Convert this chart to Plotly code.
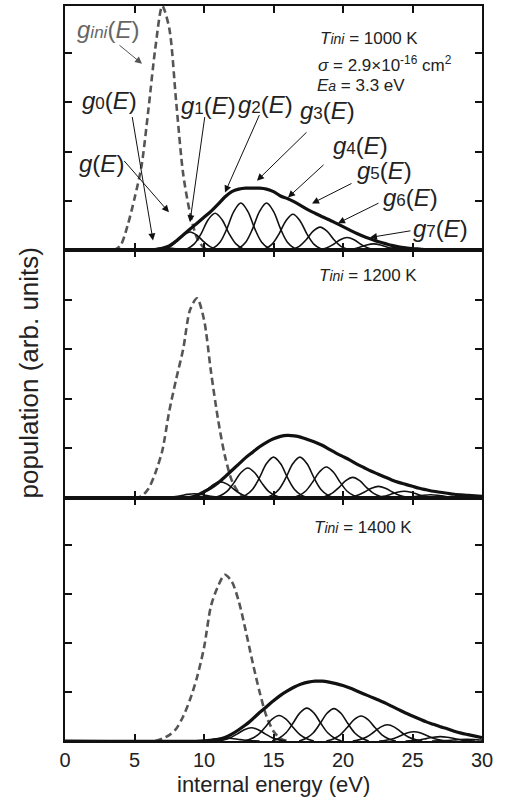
import plotly.graph_objects as go

# ---------------- data ----------------
OFFSETS = [-2.5, -2.0, -1.5, -1.0, -0.5, 0.0, 0.5, 1.0, 1.5, 2.0, 2.5]

# T_ini = 1000 K
ini_1000_E = [3.5, 4.0, 4.5, 5.0, 5.5, 6.0, 6.5, 7.0, 7.5, 8.0, 8.5, 9.0, 9.5, 10.0, 10.5]
ini_1000_y = [0.0, 0.1, 0.5, 1.05, 1.7, 2.85, 4.1, 4.95, 4.5, 3.0, 1.55, 0.75, 0.25, 0.05, 0.0]
env_1000_E = [0, 6.0, 6.5, 7.0, 7.5, 8.0, 8.5, 9.0, 9.5, 10.0, 10.5, 11.0, 11.5, 12.0, 12.5, 13.0,
              13.5, 14.0, 14.5, 15.0, 15.5, 16.0, 16.5, 17.0, 17.5, 18.0, 18.5, 19.0, 19.5, 20.0,
              20.5, 21.0, 21.5, 22.0, 22.5, 23.0, 23.5, 24.0, 24.5, 25.0, 25.5, 26.0, 27.0, 28.0, 30]
env_1000_y = [0, 0.0, 0.01, 0.04, 0.09, 0.19, 0.31, 0.43, 0.55, 0.67, 0.79, 0.93, 1.08, 1.19, 1.24, 1.26,
              1.26, 1.26, 1.24, 1.19, 1.1, 1.05, 0.98, 0.9, 0.82, 0.75, 0.68, 0.62, 0.55, 0.48,
              0.41, 0.34, 0.28, 0.23, 0.18, 0.14, 0.1, 0.07, 0.05, 0.035, 0.025, 0.015, 0.005, 0.0, 0]
comp_1000_c = [7.2, 9.0, 10.8, 12.65, 14.5, 16.4, 18.35, 20.3, 22.2, 24.1]
comp_1000_y = [
    [0, 0.002, 0.009, 0.023, 0.041, 0.05, 0.041, 0.023, 0.009, 0.002, 0],
    [0, 0.016, 0.064, 0.17, 0.30, 0.37, 0.30, 0.17, 0.064, 0.016, 0],
    [0, 0.033, 0.13, 0.34, 0.62, 0.75, 0.62, 0.34, 0.13, 0.033, 0],
    [0, 0.042, 0.165, 0.44, 0.79, 0.96, 0.79, 0.44, 0.165, 0.042, 0],
    [0, 0.042, 0.165, 0.44, 0.79, 0.96, 0.79, 0.44, 0.165, 0.042, 0],
    [0, 0.032, 0.126, 0.334, 0.60, 0.73, 0.60, 0.334, 0.126, 0.032, 0],
    [0, 0.021, 0.081, 0.215, 0.387, 0.47, 0.387, 0.215, 0.081, 0.021, 0],
    [0, 0.011, 0.045, 0.119, 0.214, 0.26, 0.214, 0.119, 0.045, 0.011, 0],
    [0, 0.006, 0.022, 0.06, 0.107, 0.13, 0.107, 0.06, 0.022, 0.006, 0],
    [0, 0.003, 0.01, 0.027, 0.049, 0.06, 0.049, 0.027, 0.01, 0.003, 0],
]

# T_ini = 1200 K
ini_1200_E = [5.0, 5.5, 6.0, 6.5, 7.0, 7.5, 8.0, 8.5, 9.0, 9.5, 10.0, 10.5, 11.0, 11.5, 12.0, 12.5, 13.0]
ini_1200_y = [0.0, 0.03, 0.18, 0.5, 0.95, 1.75, 2.4, 3.0, 3.8, 4.03, 3.6, 2.55, 1.6, 0.85, 0.35, 0.1, 0.0]
env_1200_E = [0, 8.5, 9.0, 9.5, 10.0, 10.5, 11.0, 11.5, 12.0, 12.5, 13.0, 13.5, 14.0, 14.5, 15.0,
              15.5, 16.0, 16.5, 17.0, 17.5, 18.0, 18.5, 19.0, 19.5, 20.0, 20.5, 21.0, 21.5, 22.0,
              22.5, 23.0, 23.5, 24.0, 24.5, 25.0, 25.5, 26.0, 26.5, 27.0, 27.5, 28.0, 29.0, 30.0]
env_1200_y = [0, 0.0, 0.01, 0.05, 0.12, 0.2, 0.3, 0.42, 0.55, 0.68, 0.81, 0.92, 1.03, 1.12, 1.19,
              1.24, 1.26, 1.25, 1.22, 1.17, 1.12, 1.06, 0.98, 0.9, 0.83, 0.76, 0.68, 0.61, 0.54,
              0.48, 0.42, 0.36, 0.31, 0.27, 0.23, 0.19, 0.16, 0.13, 0.11, 0.09, 0.07, 0.05, 0.03]
comp_1200_c = [9.3, 11.2, 13.15, 15.0, 16.9, 18.8, 20.7, 22.55, 24.4, 26.3]
comp_1200_y = [
    [0, 0.005, 0.017, 0.04, 0.067, 0.08, 0.067, 0.04, 0.017, 0.005, 0],
    [0, 0.02, 0.068, 0.16, 0.27, 0.32, 0.27, 0.16, 0.068, 0.02, 0],
    [0, 0.038, 0.127, 0.3, 0.505, 0.6, 0.505, 0.3, 0.127, 0.038, 0],
    [0, 0.052, 0.173, 0.41, 0.69, 0.82, 0.69, 0.41, 0.173, 0.052, 0],
    [0, 0.052, 0.173, 0.41, 0.69, 0.82, 0.69, 0.41, 0.173, 0.052, 0],
    [0, 0.039, 0.131, 0.31, 0.521, 0.62, 0.521, 0.31, 0.131, 0.039, 0],
    [0, 0.026, 0.087, 0.205, 0.345, 0.41, 0.345, 0.205, 0.087, 0.026, 0],
    [0, 0.014, 0.049, 0.115, 0.193, 0.23, 0.193, 0.115, 0.049, 0.014, 0],
    [0, 0.008, 0.027, 0.065, 0.109, 0.13, 0.109, 0.065, 0.027, 0.008, 0],
    [0, 0.004, 0.013, 0.03, 0.05, 0.06, 0.05, 0.03, 0.013, 0.004, 0],
]

# T_ini = 1400 K
ini_1400_E = [6.5, 7.0, 7.5, 8.0, 8.5, 9.0, 9.5, 10.0, 10.5, 11.0, 11.5, 12.0, 12.5, 13.0, 13.5,
              14.0, 14.5, 15.0, 15.5, 16.0]
ini_1400_y = [0.0, 0.05, 0.12, 0.25, 0.5, 0.85, 1.3, 1.9, 2.75, 3.15, 3.39, 3.25, 2.85, 2.25, 1.6,
              1.0, 0.5, 0.2, 0.05, 0.0]
env_1400_E = [0, 10.0, 10.5, 11.0, 11.5, 12.0, 12.5, 13.0, 13.5, 14.0, 14.5, 15.0, 15.5, 16.0, 16.5,
              17.0, 17.5, 18.0, 18.5, 19.0, 19.5, 20.0, 20.5, 21.0, 21.5, 22.0, 22.5, 23.0, 23.5,
              24.0, 24.5, 25.0, 25.5, 26.0, 26.5, 27.0, 27.5, 28.0, 28.5, 29.0, 29.5, 30.0]
env_1400_y = [0, 0.0, 0.01, 0.03, 0.07, 0.14, 0.23, 0.33, 0.45, 0.58, 0.7, 0.82, 0.93, 1.02, 1.1,
              1.16, 1.2, 1.22, 1.22, 1.2, 1.17, 1.13, 1.08, 1.02, 0.96, 0.9, 0.84, 0.78, 0.71,
              0.64, 0.57, 0.51, 0.45, 0.39, 0.34, 0.29, 0.25, 0.2, 0.16, 0.13, 0.1, 0.07]
comp_1400_c = [11.5, 13.4, 15.4, 17.4, 19.35, 21.3, 23.2, 25.1, 27.0, 28.9]
comp_1400_y = [
    [0, 0.005, 0.015, 0.032, 0.051, 0.06, 0.051, 0.032, 0.015, 0.005, 0],
    [0, 0.023, 0.067, 0.146, 0.231, 0.27, 0.231, 0.146, 0.067, 0.023, 0],
    [0, 0.044, 0.129, 0.28, 0.446, 0.52, 0.446, 0.28, 0.129, 0.044, 0],
    [0, 0.057, 0.167, 0.361, 0.574, 0.67, 0.574, 0.361, 0.167, 0.057, 0],
    [0, 0.056, 0.164, 0.356, 0.566, 0.66, 0.566, 0.356, 0.164, 0.056, 0],
    [0, 0.043, 0.127, 0.275, 0.437, 0.51, 0.437, 0.275, 0.127, 0.043, 0],
    [0, 0.028, 0.082, 0.178, 0.283, 0.33, 0.283, 0.178, 0.082, 0.028, 0],
    [0, 0.016, 0.047, 0.102, 0.163, 0.19, 0.163, 0.102, 0.047, 0.016, 0],
    [0, 0.008, 0.022, 0.049, 0.077, 0.09, 0.077, 0.049, 0.022, 0.008, 0],
    [0, 0.003, 0.009, 0.019, 0.03, 0.035, 0.03, 0.019, 0.009, 0.003, 0],
]

x_ticks = [0, 5, 10, 15, 20, 25, 30]
x_ticktext = ["0", "5", "10", "15", "20", "25", "30"]

# ---------------- figure ----------------
FONT = "Liberation Sans, Arial, sans-serif"
fig = go.Figure()

panels = [
    ("x", "y", ini_1000_E, ini_1000_y, env_1000_E, env_1000_y, comp_1000_c, comp_1000_y),
    ("x2", "y2", ini_1200_E, ini_1200_y, env_1200_E, env_1200_y, comp_1200_c, comp_1200_y),
    ("x3", "y3", ini_1400_E, ini_1400_y, env_1400_E, env_1400_y, comp_1400_c, comp_1400_y),
]

for xa, ya, iE, iy, eE, ey, cc, cy in panels:
    fig.add_trace(go.Scatter(x=iE, y=iy, mode="lines", xaxis=xa, yaxis=ya,
                             line=dict(color="#555555", width=2.6, dash="7px,4px",
                                       shape="spline", smoothing=0.8),
                             showlegend=False, hoverinfo="skip"))
    for c, ys in zip(cc, cy):
        fig.add_trace(go.Scatter(x=[c + o for o in OFFSETS], y=ys, mode="lines",
                                 xaxis=xa, yaxis=ya,
                                 line=dict(color="#111111", width=1.6, shape="spline", smoothing=1.0),
                                 showlegend=False, hoverinfo="skip"))
    fig.add_trace(go.Scatter(x=eE, y=ey, mode="lines", xaxis=xa, yaxis=ya,
                             line=dict(color="#111111", width=3.2, shape="spline", smoothing=0.8),
                             showlegend=False, hoverinfo="skip"))

axis_common = dict(showline=True, linecolor="#111111", linewidth=2, mirror="ticks",
                   ticks="inside", ticklen=7, tickwidth=1.5, tickcolor="#111111",
                   showgrid=False, zeroline=False)

fig.update_layout(
    width=505, height=798,
    margin=dict(l=65, r=23, t=4, b=57),
    paper_bgcolor="white", plot_bgcolor="white",
    font=dict(family=FONT, color="#222222"),
    xaxis=dict(range=[0, 30], anchor="y", tickvals=x_ticks, showticklabels=False, **axis_common),
    xaxis2=dict(range=[0, 30], anchor="y2", tickvals=x_ticks, showticklabels=False, **axis_common),
    xaxis3=dict(range=[0, 30], anchor="y3", tickvals=x_ticks, ticktext=x_ticktext,
                tickfont=dict(size=20, family=FONT, color="#222222"), **axis_common),
    yaxis=dict(domain=[0.6676, 1.0], range=[0, 4.95], anchor="x", dtick=1, tick0=0,
               showticklabels=False, **axis_common),
    yaxis2=dict(domain=[0.331, 0.6676], range=[0, 5.0], anchor="x2", dtick=1, tick0=0,
                showticklabels=False, **axis_common),
    yaxis3=dict(domain=[0.0, 0.331], range=[0, 4.96], anchor="x3", dtick=1, tick0=0,
                showticklabels=False, **axis_common),
)

ann = []
# axis titles
ann.append(dict(text="internal energy (eV)", xref="paper", yref="paper", x=0.5, y=-0.0773,
                xanchor="center", yanchor="bottom", showarrow=False, borderpad=0,
                font=dict(size=22, family=FONT, color="#222222")))
ann.append(dict(text="population (arb. units)", xref="paper", yref="paper", x=-0.0887, y=0.5,
                xanchor="center", yanchor="middle", textangle=-90, showarrow=False,
                font=dict(size=26, family=FONT, color="#222222")))

# info texts
def info(text, x, y, xr, yr):
    return dict(text=text, x=x, y=y, xref=xr, yref=yr, xanchor="left", yanchor="middle",
                showarrow=False, font=dict(size=17, family=FONT, color="#222222"))

small = "<span style='font-size:14px'>{}</span>"
ann.append(info("<i>T" + small.format("ini") + "</i> = 1000 K", 18.2, 4.30, "x", "y"))
ann.append(info("<i>σ</i> = 2.9×10<sup>-16</sup> cm<sup>2</sup>", 18.05, 3.78, "x", "y"))
ann.append(info("<i>E" + small.format("a") + "</i> = 3.3 eV", 18.0, 3.33, "x", "y"))
ann.append(info("<i>T" + small.format("ini") + "</i> = 1200 K", 18.1, 4.5, "x2", "y2"))
ann.append(info("<i>T" + small.format("ini") + "</i> = 1400 K", 17.8, 4.35, "x3", "y3"))

# curve labels (top panel)
sub = "<span style='font-size:17px'>{}</span>"
def glabel(s):
    return "<i>g</i>" + sub.format(s) + "(<i>E</i>)"

labels = [
    ("<i>g</i><i>" + sub.format("ini") + "</i>(<i>E</i>)", 3.09, 4.48, "#666666"),
    (glabel("0"), 3.17, 3.03, "#222222"),
    ("<i>g</i>(<i>E</i>)", 2.66, 1.76, "#222222"),
    (glabel("1"), 10.29, 2.93, "#222222"),
    (glabel("2"), 14.39, 2.95, "#222222"),
    (glabel("3"), 18.85, 2.83, "#222222"),
    (glabel("4"), 21.29, 2.12, "#222222"),
    (glabel("5"), 23.02, 1.62, "#222222"),
    (glabel("6"), 24.82, 1.07, "#222222"),
    (glabel("7"), 26.98, 0.44, "#222222"),
]
for t, x, y, col in labels:
    ann.append(dict(text=t, x=x, y=y, xref="x", yref="y", xanchor="center", yanchor="middle",
                    showarrow=False, font=dict(size=24, family=FONT, color=col)))

arrows = [
    ((3.81, 4.18), (5.54, 3.78), "#555555"),
    ((4.82, 2.73), (6.33, 0.20), "#111111"),
    ((4.17, 1.84), (7.48, 0.77), "#111111"),
    ((10.07, 2.73), (8.99, 0.57), "#111111"),
    ((14.03, 2.77), (11.51, 1.17), "#111111"),
    ((17.48, 2.42), (13.81, 1.41), "#111111"),
    ((18.71, 1.76), (16.04, 1.07), "#111111"),
    ((20.72, 1.37), (17.77, 0.95), "#111111"),
    ((22.66, 0.97), (19.64, 0.55), "#111111"),
    ((24.96, 0.40), (21.94, 0.26), "#111111"),
]
for (tx, ty), (hx, hy), col in arrows:
    ann.append(dict(text="", x=hx, y=hy, xref="x", yref="y", ax=tx, ay=ty, axref="x", ayref="y",
                    showarrow=True, arrowhead=2, arrowsize=1.4, arrowwidth=1.0, arrowcolor=col,
                    standoff=0, startstandoff=0))

fig.update_layout(annotations=ann)
fig.write_html("out.html")
